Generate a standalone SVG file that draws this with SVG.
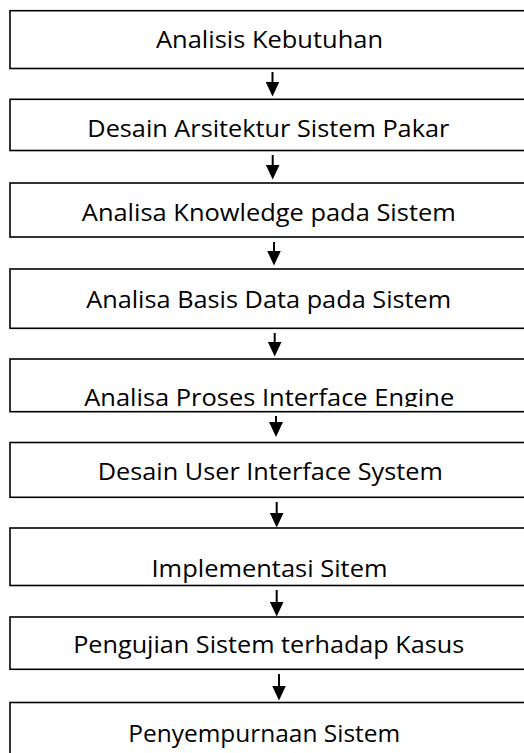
<svg xmlns="http://www.w3.org/2000/svg" width="524" height="753" viewBox="0 0 524 753">
<style>
.box{fill:#fff;stroke:#000;stroke-width:1.6}
.lbl{font-family:"Open Sans","Noto Sans",sans-serif;font-size:23.5px;fill:#000;text-anchor:middle}
.conn{stroke:#000;stroke-width:2;fill:none}
</style>
<defs>
<marker id="ah" markerUnits="userSpaceOnUse" markerWidth="15" markerHeight="14" viewBox="0 0 15 14" refX="5" refY="7" orient="auto">
<path d="M0,0 L15,7 L0,14 z" fill="#000"/>
</marker>
<clipPath id="c5"><rect x="0" y="355" width="524" height="52"/></clipPath>
</defs>
<rect width="524" height="753" fill="#fff"/>
<g id="n1"><rect class="box" x="10" y="10.7" width="530" height="57.8"/><text class="lbl" x="269.5" y="48.3" textLength="227" lengthAdjust="spacingAndGlyphs">Analisis Kebutuhan</text></g>
<g id="n2"><rect class="box" x="10" y="99.3" width="530" height="51.2"/><text class="lbl" x="268.3" y="136.7" textLength="362" lengthAdjust="spacingAndGlyphs">Desain Arsitektur Sistem Pakar</text></g>
<g id="n3"><rect class="box" x="10" y="183" width="530" height="54"/><text class="lbl" x="268.8" y="220.7" textLength="374" lengthAdjust="spacingAndGlyphs">Analisa Knowledge pada Sistem</text></g>
<g id="n4"><rect class="box" x="10" y="269" width="530" height="59.3"/><text class="lbl" x="268.7" y="308.3" textLength="365" lengthAdjust="spacingAndGlyphs">Analisa Basis Data pada Sistem</text></g>
<g id="n5"><rect class="box" x="10" y="359" width="530" height="52.7"/><text class="lbl" x="269.2" y="406" textLength="370" lengthAdjust="spacingAndGlyphs" clip-path="url(#c5)">Analisa Proses Interface Engine</text></g>
<g id="n6"><rect class="box" x="10" y="442.5" width="530" height="54.8"/><text class="lbl" x="270.3" y="480" textLength="345" lengthAdjust="spacingAndGlyphs">Desain User Interface System</text></g>
<g id="n7"><rect class="box" x="10" y="528" width="530" height="57.5"/><text class="lbl" x="269.5" y="576.7" textLength="236" lengthAdjust="spacingAndGlyphs">Implementasi Sitem</text></g>
<g id="n8"><rect class="box" x="10" y="617" width="530" height="52.3"/><text class="lbl" x="268.7" y="653.3" textLength="391" lengthAdjust="spacingAndGlyphs">Pengujian Sistem terhadap Kasus</text></g>
<g id="n9"><rect class="box" x="10" y="702.5" width="530" height="60"/><text class="lbl" x="264.2" y="741.7" textLength="272" lengthAdjust="spacingAndGlyphs">Penyempurnaan Sistem</text></g>
<g id="connectors">
<line class="conn" x1="272.5" y1="72" x2="272.5" y2="86.5" marker-end="url(#ah)"/>
<line class="conn" x1="272.7" y1="155" x2="272.7" y2="169.5" marker-end="url(#ah)"/>
<line class="conn" x1="274" y1="242" x2="274" y2="255.5" marker-end="url(#ah)"/>
<line class="conn" x1="274.7" y1="333" x2="274.7" y2="346.5" marker-end="url(#ah)"/>
<line class="conn" x1="276" y1="416" x2="276" y2="427" marker-end="url(#ah)"/>
<line class="conn" x1="276.7" y1="502" x2="276.7" y2="517.5" marker-end="url(#ah)"/>
<line class="conn" x1="276.7" y1="590" x2="276.7" y2="606.5" marker-end="url(#ah)"/>
<line class="conn" x1="279" y1="674" x2="279" y2="690.5" marker-end="url(#ah)"/>
</g>
</svg>
